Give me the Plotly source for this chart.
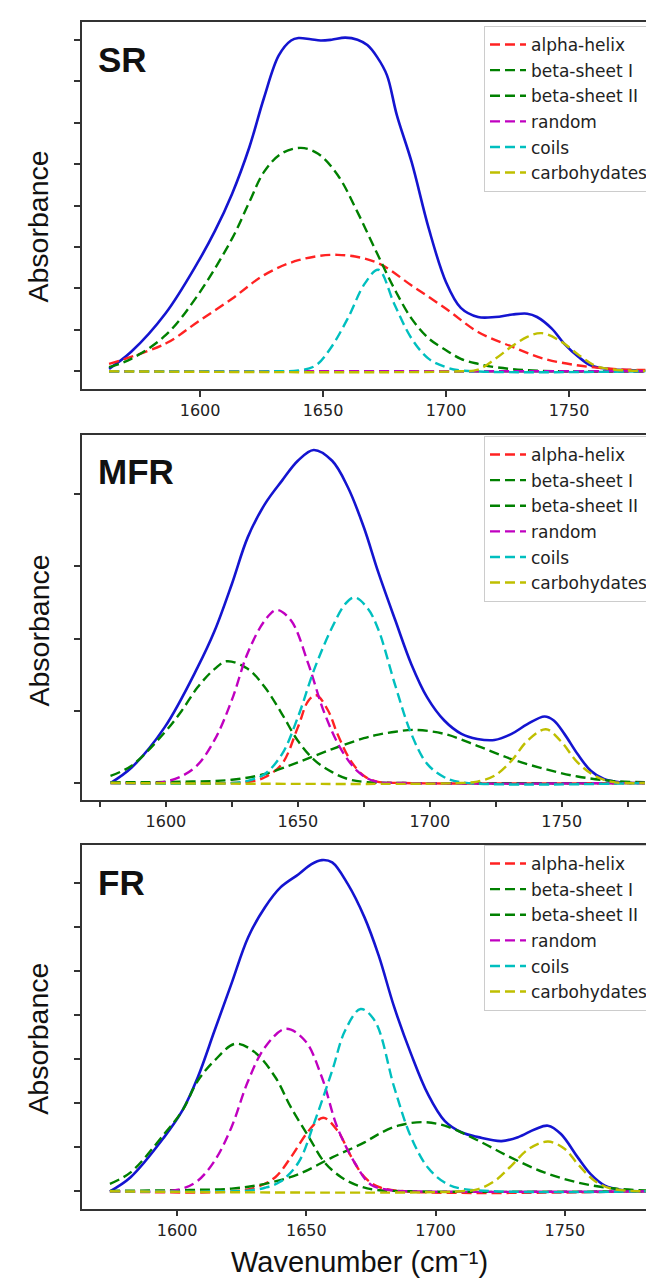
import plotly.graph_objects as go

# ---------------- data ----------------
COMPONENT_NAMES = ["alpha-helix", "beta-sheet I", "beta-sheet II", "random", "coils", "carbohydates"]
PANEL_TAGS = ["SR", "MFR", "FR"]

# ---- SR ----
SR_x_total = [1563, 1572, 1586, 1599, 1606, 1613, 1620, 1626, 1632, 1637, 1640, 1645, 1649, 1653.5, 1659, 1664,
              1668, 1672, 1676, 1680, 1686, 1693, 1700, 1706, 1713, 1720, 1727, 1733, 1737, 1743, 1748, 1754,
              1759, 1767, 1781]
SR_total = [0.006, 0.047, 0.140, 0.262, 0.338, 0.428, 0.540, 0.660, 0.762, 0.798, 0.804, 0.801, 0.798, 0.800,
            0.805, 0.800, 0.787, 0.758, 0.714, 0.618, 0.505, 0.344, 0.215, 0.153, 0.131, 0.131, 0.137, 0.139,
            0.131, 0.103, 0.067, 0.034, 0.014, 0.005, 0.002]
SR_x_alpha = [1563, 1586, 1599, 1613, 1626, 1640, 1656, 1672, 1686, 1700, 1713, 1727, 1740, 1754, 1767, 1781]
SR_alpha = [0.018, 0.067, 0.119, 0.175, 0.232, 0.268, 0.281, 0.262, 0.207, 0.151, 0.095, 0.059, 0.030, 0.014,
            0.006, 0.003]
SR_x_beta1 = [1563, 1572, 1586, 1599, 1613, 1620, 1626, 1633, 1641, 1648, 1656, 1664, 1672, 1679, 1686, 1693,
              1700, 1706, 1713, 1720, 1735, 1781]
SR_beta1 = [0.010, 0.030, 0.087, 0.183, 0.320, 0.408, 0.481, 0.525, 0.539, 0.525, 0.473, 0.384, 0.284, 0.199,
            0.127, 0.079, 0.051, 0.030, 0.018, 0.010, 0.002, 0.0]
SR_x_beta2 = [1563, 1781]
SR_beta2 = [0.0, 0.0]
SR_x_random = [1563, 1781]
SR_random = [0.0, 0.0]
SR_x_coils = [1563, 1630, 1640, 1647, 1653, 1660, 1667, 1672.5, 1679, 1686, 1693, 1700, 1706, 1781]
SR_coils = [0.0, 0.0, 0.002, 0.014, 0.055, 0.127, 0.212, 0.245, 0.162, 0.079, 0.030, 0.010, 0.002, 0.0]
SR_x_carbs = [1563, 1705, 1713, 1720, 1726.5, 1733, 1739, 1747, 1754, 1760.5, 1767, 1781]
SR_carbs = [0.0, 0.0, 0.004, 0.030, 0.059, 0.083, 0.092, 0.071, 0.039, 0.014, 0.005, 0.001]

# ---- MFR ----
MFR_x_total = [1579, 1587, 1599.5, 1612, 1618.5, 1625, 1631, 1637.5, 1644, 1650, 1656, 1663, 1669, 1675, 1680.5,
               1687, 1693, 1699, 1705.5, 1712, 1718, 1724.5, 1731, 1737, 1743.5, 1747, 1751, 1756, 1761, 1766,
               1772, 1781.5]
MFR_total = [0.0, 0.043, 0.154, 0.320, 0.422, 0.551, 0.680, 0.772, 0.837, 0.892, 0.922, 0.892, 0.818, 0.708,
             0.583, 0.449, 0.329, 0.237, 0.173, 0.136, 0.122, 0.119, 0.136, 0.163, 0.184, 0.173, 0.136, 0.080,
             0.034, 0.011, 0.002, 0.0]
MFR_x_alpha = [1579, 1625, 1632, 1637.5, 1644, 1650, 1654, 1657, 1661.5, 1665, 1670, 1675, 1680, 1690, 1781.5]
MFR_alpha = [0.0, 0.0, 0.004, 0.016, 0.053, 0.154, 0.228, 0.243, 0.200, 0.136, 0.062, 0.020, 0.004, 0.0, 0.0]
MFR_x_beta1 = [1579, 1587, 1599.5, 1606, 1612, 1618.5, 1623, 1631, 1637.5, 1644, 1650, 1656.5, 1663, 1669, 1675,
               1690, 1781.5]
MFR_beta1 = [0.020, 0.048, 0.140, 0.200, 0.265, 0.316, 0.337, 0.316, 0.265, 0.191, 0.117, 0.062, 0.030, 0.011,
             0.003, 0.0, 0.0]
MFR_x_beta2 = [1579, 1610, 1625, 1637.5, 1650, 1663, 1675, 1680.5, 1687, 1694, 1705.5, 1718, 1731, 1743.5, 1756,
               1769, 1781.5]
MFR_beta2 = [0.002, 0.004, 0.009, 0.025, 0.057, 0.094, 0.124, 0.134, 0.142, 0.147, 0.136, 0.103, 0.066, 0.039,
             0.018, 0.006, 0.002]
MFR_x_random = [1579, 1595, 1600, 1606, 1612, 1618.5, 1625, 1631, 1637.5, 1642, 1647.5, 1654, 1660, 1666.5, 1673,
                1679, 1690, 1781.5]
MFR_random = [0.0, 0.0, 0.004, 0.019, 0.050, 0.120, 0.230, 0.360, 0.450, 0.479, 0.449, 0.329, 0.195, 0.092, 0.030,
              0.005, 0.0, 0.0]
MFR_x_coils = [1579, 1625, 1632, 1637.5, 1644, 1650, 1656.5, 1663, 1668, 1671.5, 1676.5, 1680.5, 1687, 1693, 1699,
               1705.5, 1712, 1781.5]
MFR_coils = [0.0, 0.0, 0.008, 0.025, 0.080, 0.182, 0.320, 0.431, 0.496, 0.514, 0.483, 0.425, 0.268, 0.136, 0.053,
             0.016, 0.002, 0.0]
MFR_x_carbs = [1579, 1712, 1718, 1724.5, 1731, 1737, 1744, 1749.5, 1756, 1762.5, 1769, 1781.5]
MFR_carbs = [0.0, 0.0, 0.004, 0.020, 0.062, 0.117, 0.149, 0.117, 0.057, 0.020, 0.003, 0.0]

# ---- FR ----
FR_x_total = [1574, 1582, 1595, 1602, 1608, 1614.5, 1621, 1627.5, 1634, 1640, 1647, 1652, 1656, 1660, 1666,
              1672.5, 1678, 1684, 1690.5, 1697, 1703.5, 1710, 1716.5, 1725.5, 1732, 1738.5, 1743.5, 1748.5, 1755,
              1760, 1765.5, 1772, 1781.5]
FR_total = [0.0, 0.032, 0.123, 0.183, 0.259, 0.365, 0.471, 0.577, 0.645, 0.690, 0.720, 0.743, 0.752, 0.747,
            0.698, 0.622, 0.535, 0.418, 0.312, 0.221, 0.160, 0.134, 0.123, 0.114, 0.123, 0.141, 0.149, 0.130,
            0.077, 0.039, 0.013, 0.003, 0.0]
FR_x_alpha = [1574, 1622, 1631, 1638, 1644, 1651, 1656.5, 1662, 1667.5, 1672.5, 1678, 1688, 1781.5]
FR_alpha = [0.0, 0.0, 0.010, 0.032, 0.077, 0.138, 0.167, 0.138, 0.077, 0.032, 0.010, 0.0, 0.0]
FR_x_beta1 = [1574, 1582, 1595, 1602, 1608, 1614.5, 1622.5, 1630, 1638, 1644, 1651, 1657, 1663.5, 1670, 1676,
              1690, 1781.5]
FR_beta1 = [0.017, 0.043, 0.130, 0.183, 0.251, 0.297, 0.335, 0.316, 0.259, 0.191, 0.123, 0.066, 0.032, 0.013,
            0.004, 0.0, 0.0]
FR_x_beta2 = [1574, 1605, 1621, 1634, 1647, 1660, 1672.5, 1678, 1685.5, 1695, 1703.5, 1716.5, 1729, 1742, 1755,
              1768, 1781.5]
FR_beta2 = [0.001, 0.003, 0.006, 0.017, 0.039, 0.077, 0.111, 0.130, 0.149, 0.157, 0.149, 0.115, 0.077, 0.043,
            0.020, 0.007, 0.002]
FR_x_random = [1574, 1595, 1602, 1608, 1614.5, 1621, 1627.5, 1634, 1642, 1649.5, 1656, 1662, 1669, 1675, 1682,
               1690, 1781.5]
FR_random = [0.0, 0.0, 0.006, 0.024, 0.069, 0.145, 0.251, 0.327, 0.369, 0.342, 0.259, 0.145, 0.062, 0.015, 0.003,
             0.0, 0.0]
FR_x_coils = [1574, 1622, 1628, 1634, 1640, 1647, 1653, 1660, 1665, 1671, 1676.5, 1684, 1690.5, 1697, 1703.5,
              1710, 1781.5]
FR_coils = [0.0, 0.0, 0.002, 0.008, 0.022, 0.066, 0.155, 0.274, 0.365, 0.414, 0.387, 0.236, 0.123, 0.054, 0.020,
            0.006, 0.0]
FR_x_carbs = [1574, 1710, 1716.5, 1723, 1729.3, 1736, 1743.5, 1750, 1755, 1761.5, 1768, 1781.5]
FR_carbs = [0.0, 0.0, 0.005, 0.024, 0.058, 0.096, 0.113, 0.096, 0.062, 0.024, 0.006, 0.0]

# tick positions / labels
X_TICKS = [1600, 1650, 1700, 1750]
X_MINOR_MFR = [1575, 1625, 1675, 1725, 1775]
Y_TICKS_SR = [0, 0.1, 0.2, 0.3, 0.4, 0.5, 0.6, 0.7, 0.8]
Y_TICKS_MFR = [0, 0.2, 0.4, 0.6, 0.8]
Y_TICKS_FR = [0, 0.1, 0.2, 0.3, 0.4, 0.5, 0.6, 0.7]

# ---------------- styling ----------------
COLORS = ["#ff2222", "#008000", "#008000", "#c000c0", "#00bfbf", "#bfbf00"]
TOTAL_COLOR = "#1414d0"
DASH = "10px,5px"

panels = [
    dict(tag="SR", xa="x", ya="y", leg="legend",
         total=(SR_x_total, SR_total),
         comps=[(SR_x_alpha, SR_alpha), (SR_x_beta1, SR_beta1), (SR_x_beta2, SR_beta2),
                (SR_x_random, SR_random), (SR_x_coils, SR_coils), (SR_x_carbs, SR_carbs)]),
    dict(tag="MFR", xa="x2", ya="y2", leg="legend2",
         total=(MFR_x_total, MFR_total),
         comps=[(MFR_x_alpha, MFR_alpha), (MFR_x_beta1, MFR_beta1), (MFR_x_beta2, MFR_beta2),
                (MFR_x_random, MFR_random), (MFR_x_coils, MFR_coils), (MFR_x_carbs, MFR_carbs)]),
    dict(tag="FR", xa="x3", ya="y3", leg="legend3",
         total=(FR_x_total, FR_total),
         comps=[(FR_x_alpha, FR_alpha), (FR_x_beta1, FR_beta1), (FR_x_beta2, FR_beta2),
                (FR_x_random, FR_random), (FR_x_coils, FR_coils), (FR_x_carbs, FR_carbs)]),
]

fig = go.Figure()
for p in panels:
    tx, ty = p["total"]
    fig.add_trace(go.Scatter(x=tx, y=ty, mode="lines", xaxis=p["xa"], yaxis=p["ya"],
                             line=dict(color=TOTAL_COLOR, width=2.6, shape="spline", smoothing=1.0),
                             showlegend=False, hoverinfo="skip"))
    for i, (cx, cy) in enumerate(p["comps"]):
        fig.add_trace(go.Scatter(x=cx, y=cy, mode="lines", xaxis=p["xa"], yaxis=p["ya"],
                                 name=COMPONENT_NAMES[i], legend=p["leg"],
                                 legendgroup=p["tag"] + str(i),
                                 line=dict(color=COLORS[i], width=2.4, dash=DASH,
                                           shape="spline", smoothing=1.0),
                                 hoverinfo="skip"))

W, H = 654, 1278
def fx(px):
    return px / W
def fy(py):
    return 1 - py / H

axis_common = dict(showline=True, linecolor="#333333", linewidth=1.5, ticks="outside", ticklen=6,
                   tickwidth=1.5, tickcolor="#333333", showgrid=False, zeroline=False)
tickfont = dict(family="DejaVu Sans", size=16, color="#222222")

xdom = [fx(74), 1.0]
layout = dict(
    width=W, height=H, margin=dict(l=0, r=0, t=0, b=0),
    paper_bgcolor="white", plot_bgcolor="white",
    xaxis=dict(domain=xdom, anchor="y", range=[1552.0, 1787.8], mirror=True,
               tickvals=X_TICKS, tickfont=tickfont, **axis_common),
    yaxis=dict(domain=[fy(381), fy(14)], anchor="x", range=[-0.0427, 0.8427],
               tickvals=Y_TICKS_SR, showticklabels=False, **axis_common),
    xaxis2=dict(domain=xdom, anchor="y2", range=[1568.2, 1788.0], mirror=True,
                tickvals=X_TICKS, tickfont=tickfont,
                minor=dict(tickvals=X_MINOR_MFR, ticks="outside", ticklen=6, tickwidth=1.5,
                           tickcolor="#333333", showgrid=False),
                **axis_common),
    yaxis2=dict(domain=[fy(791.7), fy(426.7)], anchor="x2", range=[-0.0462, 0.9642],
                tickvals=Y_TICKS_MFR, showticklabels=False, **axis_common),
    xaxis3=dict(domain=xdom, anchor="y3", range=[1563.2, 1787.6], mirror=True,
                tickvals=X_TICKS, tickfont=tickfont, **axis_common),
    yaxis3=dict(domain=[fy(1200.7), fy(836.7)], anchor="x3", range=[-0.0395, 0.787],
                tickvals=Y_TICKS_FR, showticklabels=False, **axis_common),
)
legend_common = dict(xanchor="left", yanchor="top", bgcolor="rgba(255,255,255,0.85)",
                     bordercolor="#cccccc", borderwidth=1, tracegroupgap=0.5, itemwidth=36,
                     font=dict(family="DejaVu Sans", size=17, color="#222222"))
layout["legend"] = dict(x=fx(476), y=fy(18), **legend_common)
layout["legend2"] = dict(x=fx(476), y=fy(428), **legend_common)
layout["legend3"] = dict(x=fx(476), y=fy(837), **legend_common)
fig.update_layout(**layout)

ann = []
label_font = dict(family="Liberation Sans", size=35, color="#111111")
for tag, cy in zip(PANEL_TAGS, [51.0, 463.0, 874.0]):
    ann.append(dict(text="<b>%s</b>" % tag, x=fx(88), y=fy(cy), xref="paper", yref="paper",
                    xanchor="left", yanchor="middle", showarrow=False, font=label_font))
title_font = dict(family="Liberation Sans", size=28.5, color="#111111")
for cy in [218.5, 622.5, 1030.7]:
    ann.append(dict(text="Absorbance", x=fx(30), y=fy(cy), xref="paper", yref="paper",
                    xanchor="center", yanchor="middle", textangle=-90, showarrow=False, font=title_font))
ann.append(dict(text="Wavenumber (cm⁻¹)", x=fx(351), y=fy(1272), xref="paper", yref="paper",
                xanchor="center", yanchor="bottom", showarrow=False,
                font=dict(family="Liberation Sans", size=29, color="#111111")))
fig.update_layout(annotations=ann)

fig.write_html("out.html")
